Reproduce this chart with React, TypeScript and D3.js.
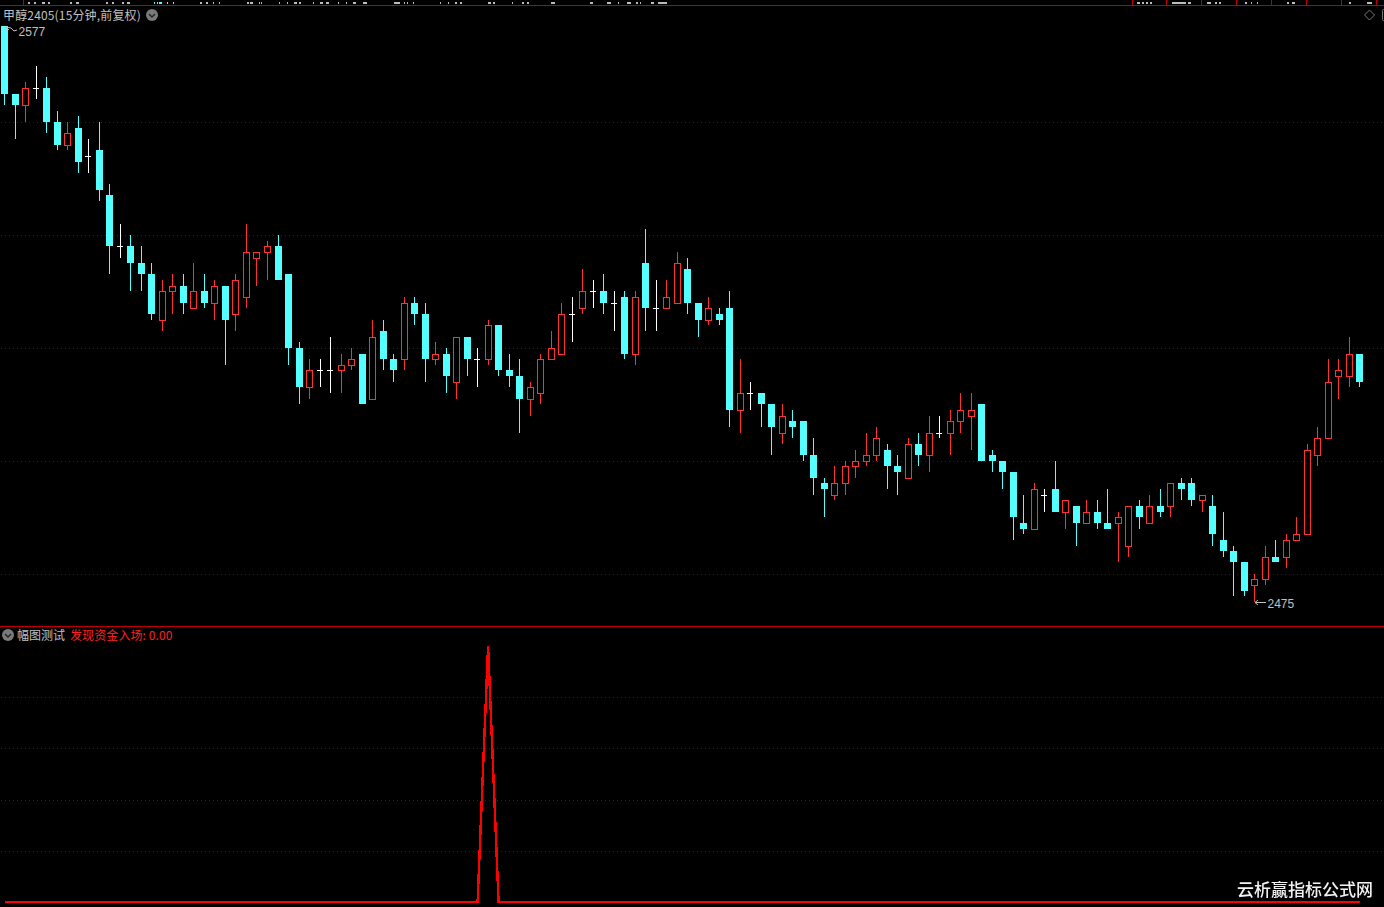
import React from "react";
import * as d3 from "d3";

// (prices of 甲醇2405, 15 minute bars)
const opens = [2577,2565,2563,2566,2566,2560,2556,2559,2554,2555,2547,2538,2538,2535,2533,2525,2530,2531,2527,2530,2528,2531,2526,2529,2536,2537,2538,2533,2520,2513,2516,2516,2516,2517,2519,2511,2523,2518,2518,2528,2526,2518,2519,2514,2522,2518,2518,2524,2516,2515,2511,2512,2518,2519,2526,2527,2530,2530,2528,2529,2519,2535,2527,2527,2528,2534,2528,2525,2526,2527,2509,2512,2512,2510,2505,2507,2507,2501,2496,2494,2496,2499,2500,2501,2502,2499,2497,2503,2501,2505,2505,2507,2508,2510,2501,2500,2498,2489,2488,2494,2495,2491,2492,2489,2491,2489,2489,2485,2492,2489,2492,2492,2496,2496,2493,2492,2486,2484,2482,2478,2479,2483,2483,2486,2487,2501,2504,2515,2515,2519];
const closes = [2565,2563,2566,2566,2560,2556,2558,2553,2554,2548,2538,2538,2535,2533,2526,2530,2531,2528,2530,2528,2531,2525,2532,2537,2537,2538,2532,2520,2513,2516,2516,2516,2517,2518,2510,2522,2518,2516,2528,2526,2518,2519,2515,2522,2518,2518,2524,2516,2515,2511,2513,2518,2520,2526,2526,2530,2530,2528,2528,2519,2529,2527,2527,2529,2535,2528,2525,2527,2525,2509,2512,2512,2510,2506,2508,2506,2501,2497,2495,2496,2499,2500,2501,2504,2499,2498,2503,2501,2505,2505,2507,2509,2509,2500,2500,2498,2490,2488,2495,2494,2491,2493,2489,2491,2489,2488,2490,2492,2490,2492,2491,2496,2495,2493,2494,2487,2484,2482,2477,2479,2483,2482,2486,2487,2502,2504,2514,2516,2519,2514];
const highs = [2577,2565,2567,2570,2568,2562,2560,2561,2557,2560,2549,2542,2540,2538,2535,2532,2533,2533,2535,2533,2532,2531,2533,2542,2537,2539,2540,2533,2521,2518,2518,2522,2519,2520,2519,2525,2525,2519,2529,2529,2528,2521,2520,2522,2522,2520,2525,2524,2519,2518,2514,2519,2523,2528,2529,2534,2532,2533,2530,2530,2530,2541,2532,2532,2537,2536,2528,2529,2527,2530,2518,2514,2512,2510,2510,2509,2507,2504,2497,2499,2500,2502,2505,2506,2503,2501,2504,2505,2508,2508,2509,2512,2512,2510,2502,2500,2498,2494,2496,2495,2500,2493,2492,2493,2493,2495,2491,2492,2493,2494,2495,2496,2497,2497,2494,2494,2491,2485,2482,2480,2485,2486,2487,2490,2503,2506,2518,2518,2522,2519];
const lows = [2563,2557,2560,2564,2558,2555,2555,2551,2551,2546,2533,2536,2530,2530,2525,2523,2526,2526,2527,2527,2525,2517,2523,2527,2531,2532,2532,2517,2510,2511,2513,2512,2512,2516,2510,2511,2516,2514,2516,2524,2514,2517,2512,2511,2515,2513,2517,2515,2513,2505,2508,2510,2518,2519,2521,2526,2527,2526,2523,2518,2517,2523,2523,2527,2528,2526,2522,2524,2524,2506,2505,2509,2506,2501,2503,2504,2500,2494,2490,2493,2494,2497,2499,2500,2495,2494,2497,2499,2498,2504,2501,2505,2502,2500,2498,2495,2486,2487,2488,2491,2491,2488,2485,2489,2488,2488,2482,2483,2488,2489,2490,2490,2493,2492,2491,2485,2483,2476,2476,2475,2478,2482,2481,2486,2487,2499,2504,2511,2513,2513];

// Lower pane indicator values, one for each bar: 1 only on bar 46
const signalBar = 46;
const signal = opens.map((_, i) => (i === signalBar ? 1 : 0));

const priceGrid = [2560, 2540, 2520, 2500, 2480];
const signalGrid = [0.2, 0.4, 0.6, 0.8];
const maxPrice = 2577;
const minPrice = 2475;
const maxBarIndex = opens.length - 1;

const titleText = "甲醇2405(15分钟,前复权)";
const subName = "幅图测试";
const subValue = "发现资金入场: 0.00";
const watermark = "云析赢指标公式网";

// Cut-off toolbar text along the top edge: [start, length, colour]
const toolbarBits: [number, number, string][] = [
  [28,2,"#bbb"],[34,2,"#bbb"],[42,3,"#bbb"],[48,2,"#bbb"],[70,2,"#bbb"],[76,3,"#bbb"],[106,2,"#bbb"],[112,2,"#bbb"],
  [122,2,"#bbb"],[127,3,"#bbb"],[154,1,"#4ff"],[157,1,"#4ff"],[159,3,"#4ff"],[167,1,"#4ff"],[173,1,"#4ff"],
  [200,2,"#bbb"],[206,2,"#bbb"],[213,1,"#bbb"],[219,1,"#bbb"],[247,2,"#bbb"],[250,3,"#bbb"],[259,1,"#bbb"],[261,1,"#bbb"],
  [279,1,"#bbb"],[287,1,"#bbb"],[294,3,"#bbb"],[299,2,"#bbb"],[313,1,"#bbb"],[320,3,"#bbb"],[326,3,"#bbb"],[338,1,"#bbb"],
  [346,1,"#bbb"],[353,3,"#bbb"],[363,4,"#bbb"],[394,6,"#bbb"],[404,1,"#bbb"],[407,1,"#bbb"],[413,1,"#bbb"],[440,1,"#bbb"],
  [448,1,"#bbb"],[455,2,"#bbb"],[460,2,"#bbb"],[488,3,"#bbb"],[493,2,"#bbb"],[512,1,"#bbb"],[522,2,"#bbb"],[527,2,"#bbb"],
  [551,4,"#bbb"],[590,3,"#bbb"],[607,4,"#bbb"],[618,1,"#bbb"],[627,4,"#bbb"],[636,2,"#bbb"],[640,1,"#bbb"],[651,3,"#bbb"],[658,9,"#bbb"],
  [1137,3,"#bbb"],[1142,2,"#bbb"],[1146,2,"#bbb"],[1150,2,"#bbb"],[1172,14,"#bbb"],[1188,3,"#bbb"],[1207,4,"#bbb"],[1215,2,"#bbb"],[1219,2,"#bbb"],
  [1245,2,"#bbb"],[1251,1,"#bbb"],[1257,1,"#bbb"],[1287,2,"#bbb"],[1292,3,"#bbb"],[1349,2,"#bbb"],[1367,5,"#bbb"],
];
const toolbarDividers = [23, 1132, 1166, 1201, 1236, 1271, 1306, 1341, 1376];

const CYAN = "#54ffff";
const RED = "#ff3232";
const GRID = "#7c0000";
const FRAME = "#c00000";
const TEXT = "#c0c0c0";
const CJK = '"Noto Sans CJK SC", "Liberation Sans", sans-serif';
const LATIN = '"Liberation Sans", sans-serif';

const x = d3.scaleLinear().domain([0, maxBarIndex]).range([4.9, 1359.9]);
const y = d3.scaleLinear().domain([maxPrice, minPrice]).range([26, 602]);
const ySignal = d3.scaleLinear().domain([0, 1]).range([902, 646]);

const signalLine = d3
  .line<number>()
  .x((_, i) => x(i))
  .y((d) => ySignal(d));

function Chevron({ cx, cy }: { cx: number; cy: number }) {
  return (
    <g>
      <circle cx={cx} cy={cy} r={6} fill="#7a7a7a" />
      <path d={`M${cx - 3},${cy - 1} L${cx},${cy + 2} L${cx + 3},${cy - 1}`} fill="none" stroke="#222" strokeWidth={1.4} />
    </g>
  );
}

function Candle({ i }: { i: number }) {
  const px = Math.floor(x(i));
  const o = opens[i];
  const c = closes[i];
  const top = Math.round(y(Math.max(o, c)));
  const bottom = Math.round(y(Math.min(o, c)));
  const yHigh = Math.round(y(highs[i]));
  const yLow = Math.round(y(lows[i]));
  const colour = c > o ? RED : c < o ? CYAN : "#ffffff";
  return (
    <g shapeRendering="crispEdges">
      <rect x={px} y={yHigh} width={1} height={Math.max(yLow - yHigh, 1)} fill={colour} />
      {c > o && (
        <rect x={px - 2.5} y={top + 0.5} width={6} height={Math.max(bottom - top, 1)} fill="#000" stroke={colour} strokeWidth={1} />
      )}
      {c < o && <rect x={px - 3} y={top} width={7} height={Math.max(bottom - top, 1)} fill={colour} />}
      {c === o && <rect x={px - 3} y={top} width={6} height={1} fill={colour} />}
    </g>
  );
}

export default function App() {
  return (
    <svg
      width={1384}
      height={907}
      viewBox="0 0 1384 907"
      style={{ position: "fixed", left: 0, top: 0, display: "block", background: "#000" }}
    >
      <defs>
        <pattern id="dots" x={0} y={0} width={4} height={1} patternUnits="userSpaceOnUse">
          <rect x={1} y={0} width={1} height={1} fill={GRID} />
        </pattern>
        <filter id="soft" x="-5%" y="-20%" width="110%" height="140%">
          <feGaussianBlur stdDeviation={0.35} />
        </filter>
      </defs>
      <rect x={0} y={0} width={1384} height={907} fill="#000" />

      {/* top frame with cut-off toolbar */}
      <g shapeRendering="crispEdges">
        {toolbarBits.map(([s, w, col], i) => (
          <rect key={i} x={s} y={2} width={w} height={2} fill={col} />
        ))}
        <rect x={0} y={5} width={1384} height={1} fill={FRAME} />
        {toolbarDividers.map((d) => (
          <rect key={d} x={d} y={0} width={1} height={5} fill={FRAME} />
        ))}
        <rect x={0} y={626} width={1384} height={1} fill={FRAME} />
      </g>

      {/* grids */}
      <g shapeRendering="crispEdges" fill="url(#dots)">
        {priceGrid.map((p) => (
          <rect key={p} x={0} width={1384} y={Math.round(y(p))} height={1} />
        ))}
        {signalGrid.map((v) => (
          <rect key={v} x={0} width={1384} y={Math.round(ySignal(v))} height={1} />
        ))}
      </g>

      {/* candles */}
      {opens.map((_, i) => (
        <Candle key={i} i={i} />
      ))}

      {/* header */}
      <text x={3} y={20} fontFamily={CJK} fontSize={12} letterSpacing={0.16} fill={TEXT}>
        {titleText}
      </text>
      <Chevron cx={152} cy={15} />
      <path d="M1369.5,10 L1374.5,15 L1369.5,20 L1364.5,15 Z" fill="none" stroke="#777" strokeWidth={1} />
      <rect x={1382.5} y={9.5} width={6} height={11} rx={1} fill="none" stroke="#777" strokeWidth={1} />

      {/* high and low labels */}
      <path d="M6,27 L9,30 M6,27 L11,28 M6,27 L6,31 M11,28 L14,31 L17,30" fill="none" stroke={TEXT} strokeWidth={1} />
      <text x={18.5} y={36} fontFamily={LATIN} fontSize={12} fill={TEXT}>
        {maxPrice}
      </text>
      <path d="M1255,602.5 L1266,602.5 M1255,602.5 L1258,600 M1255,602.5 L1258,605" fill="none" stroke={TEXT} strokeWidth={1} />
      <text x={1267.5} y={608} fontFamily={LATIN} fontSize={12} fill={TEXT}>
        {minPrice}
      </text>

      {/* lower pane */}
      <Chevron cx={8} cy={635} />
      <text x={17} y={640} fontFamily={CJK} fontSize={12} fill={TEXT}>
        {subName}
      </text>
      <text x={70} y={640} fontFamily={CJK} fontSize={12} letterSpacing={0.1} fill="#ff2020">
        {subValue}
      </text>
      <path
        d={signalLine(signal) ?? ""}
        fill="none"
        stroke="#ff0000"
        strokeWidth={2.4}
        strokeLinejoin="miter"
        shapeRendering="crispEdges"
      />

      {/* watermark */}
      <text x={1237} y={896} fontFamily={CJK} fontSize={17} fontWeight={500} fill="#f2f2f2" filter="url(#soft)">
        {watermark}
      </text>
    </svg>
  );
}
